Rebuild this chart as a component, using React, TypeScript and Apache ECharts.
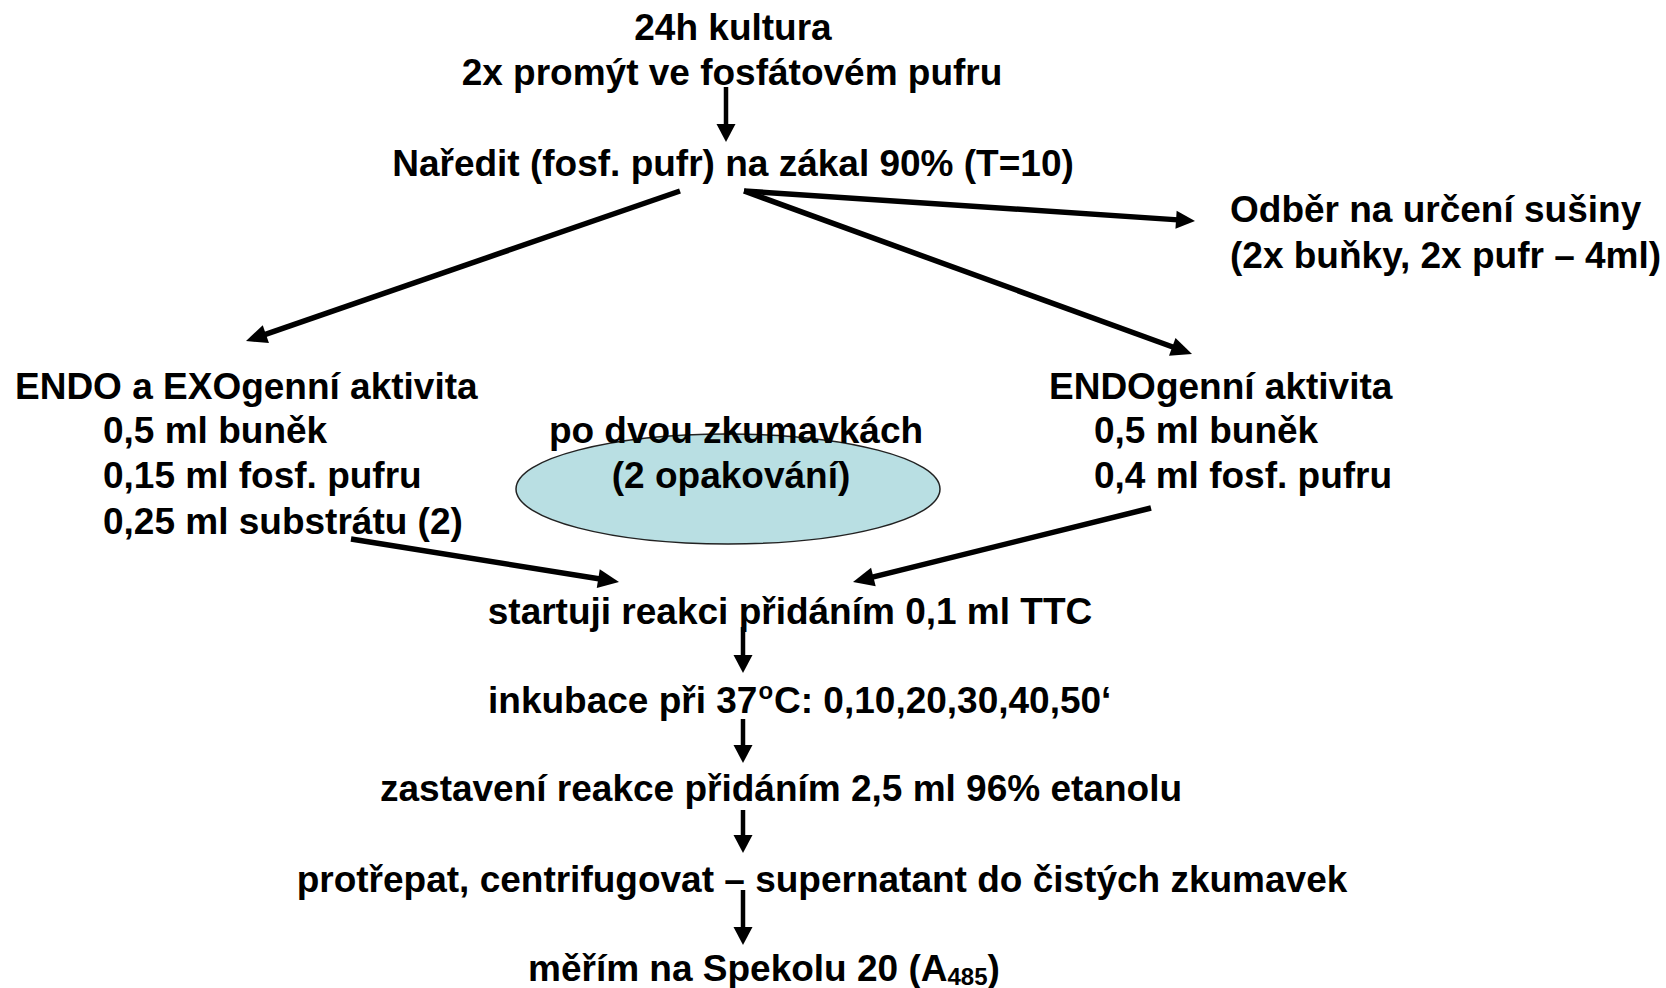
import React, { useEffect, useRef } from "react";
import * as echarts from "echarts";

const W = 1666;
const H = 988;
const FONT_FAMILY = '"Liberation Sans", Arial, Helvetica, sans-serif';
const FS = 37;

// Text content
const topLines = ["24h kultura", "2x promýt ve fosfátovém pufru"];
const diluteLine = "Naředit (fosf. pufr) na zákal 90% (T=10)";
const dryLines = ["Odběr na určení sušiny", "(2x buňky, 2x pufr – 4ml)"];
const leftBranch = ["ENDO a EXOgenní aktivita", "0,5 ml buněk", "0,15 ml fosf. pufru", "0,25 ml substrátu (2)"];
const rightBranch = ["ENDOgenní aktivita", "0,5 ml buněk", "0,4 ml fosf. pufru"];
const ellipseLines = ["po dvou zkumavkách", "(2 opakování)"];
const startLine = "startuji reakci přidáním 0,1 ml TTC";
const incubParts = ["inkubace při 37", "o", "C: 0,10,20,30,40,50‘"];
const stopLine = "zastavení reakce přidáním 2,5 ml 96% etanolu";
const shakeLine = "protřepat, centrifugovat – supernatant do čistých zkumavek";
const measureParts = ["měřím na Spekolu 20 (A", "485", ")"];

function font(size: number) {
  return `bold ${size}px ${FONT_FAMILY}`;
}

function txt(text: string, x: number, y: number, align: string = "center", size: number = FS) {
  return {
    type: "text",
    z: 10,
    style: {
      text,
      x,
      y,
      font: font(size),
      fill: "#000",
      textAlign: align,
      textVerticalAlign: "middle",
    },
  };
}

function arrow(x1: number, y1: number, x2: number, y2: number, lw: number, hl: number, hw: number) {
  const dx = x2 - x1;
  const dy = y2 - y1;
  const L = Math.hypot(dx, dy);
  const ux = dx / L;
  const uy = dy / L;
  const bx = x2 - ux * hl;
  const by = y2 - uy * hl;
  const px = -uy;
  const py = ux;
  return [
    {
      type: "line",
      z: 5,
      shape: { x1, y1, x2: bx + ux * 2, y2: by + uy * 2 },
      style: { stroke: "#000", lineWidth: lw },
    },
    {
      type: "polygon",
      z: 5,
      shape: {
        points: [
          [x2, y2],
          [bx + (px * hw) / 2, by + (py * hw) / 2],
          [bx - (px * hw) / 2, by - (py * hw) / 2],
        ],
      },
      style: { fill: "#000" },
    },
  ];
}

export default function App() {
  const ref = useRef<HTMLDivElement>(null);
  useEffect(() => {
    if (!ref.current) return;
    const chart = echarts.init(ref.current, null, { renderer: "svg", width: W, height: H });
    const canvas = document.createElement("canvas");
    const ctx = canvas.getContext("2d")!;
    const measure = (s: string, size: number) => {
      ctx.font = font(size);
      return ctx.measureText(s).width;
    };

    const elements: any[] = [];

    // ellipse behind text
    elements.push({
      type: "ellipse",
      z: 1,
      shape: { cx: 728, cy: 489, rx: 212, ry: 55 },
      style: { fill: "#B9DFE3", stroke: "#222", lineWidth: 1.5 },
    });

    // arrows
    const arrows: number[][] = [
      [726, 87, 726, 142, 4.5, 18, 19],
      [680, 191, 246, 341, 5.5, 21, 19],
      [744, 191, 1192, 354, 5.5, 21, 19],
      [744, 191, 1195, 221, 5.5, 19, 18],
      [351, 539, 619, 582, 5.5, 21, 19],
      [1151, 508, 853, 582, 5.5, 21, 19],
      [743, 627, 743, 673, 4.5, 18, 19],
      [743, 719, 743, 763, 4.5, 18, 19],
      [743, 810, 743, 853, 4.5, 18, 19],
      [743, 890, 743, 945, 4.5, 18, 19],
    ];
    arrows.forEach((a) => elements.push(...arrow(a[0], a[1], a[2], a[3], a[4], a[5], a[6])));

    // texts
    elements.push(txt(topLines[0], 733, 27));
    elements.push(txt(topLines[1], 732, 72));
    elements.push(txt(diluteLine, 733, 163));
    elements.push(txt(dryLines[0], 1230, 209, "left"));
    elements.push(txt(dryLines[1], 1230, 255, "left"));
    elements.push(txt(leftBranch[0], 15, 386, "left"));
    elements.push(txt(leftBranch[1], 103, 430, "left"));
    elements.push(txt(leftBranch[2], 103, 475, "left"));
    elements.push(txt(leftBranch[3], 103, 521, "left"));
    elements.push(txt(ellipseLines[0], 736, 430));
    elements.push(txt(ellipseLines[1], 731, 475));
    elements.push(txt(rightBranch[0], 1049, 386, "left"));
    elements.push(txt(rightBranch[1], 1094, 430, "left"));
    elements.push(txt(rightBranch[2], 1094, 475, "left"));
    elements.push(txt(startLine, 790, 611));

    // incubation with superscript
    {
      const x0 = 488;
      const y = 700;
      const w0 = measure(incubParts[0], FS);
      const w1 = measure(incubParts[1], 24);
      elements.push(txt(incubParts[0], x0, y, "left"));
      elements.push(txt(incubParts[1], x0 + w0 + 1, y - 10, "left", 24));
      elements.push(txt(incubParts[2], x0 + w0 + w1 + 2, y, "left"));
    }

    elements.push(txt(stopLine, 781, 788));
    elements.push(txt(shakeLine, 822, 879));

    // measure line with subscript
    {
      const x0 = 528;
      const y = 968;
      const w0 = measure(measureParts[0], FS);
      const w1 = measure(measureParts[1], 24);
      elements.push(txt(measureParts[0], x0, y, "left"));
      elements.push(txt(measureParts[1], x0 + w0, y + 8, "left", 24));
      elements.push(txt(measureParts[2], x0 + w0 + w1, y, "left"));
    }

    chart.setOption({
      animation: false,
      backgroundColor: "#fff",
      graphic: { elements },
    });
    return () => chart.dispose();
  }, []);

  return (
    <div
      ref={ref}
      style={{ position: "fixed", left: 0, top: 0, width: W, height: H, background: "#fff" }}
    />
  );
}
